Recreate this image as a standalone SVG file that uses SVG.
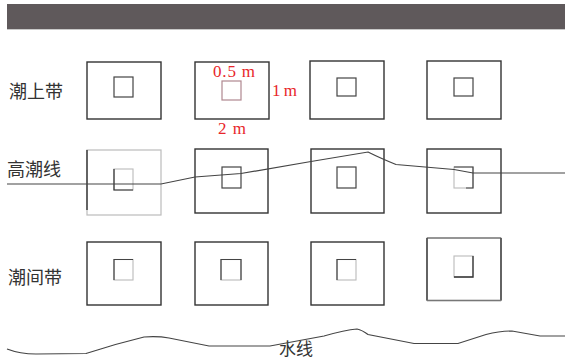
<svg xmlns="http://www.w3.org/2000/svg" width="565" height="361" viewBox="0 0 565 361">
<style>
.box{fill:none;stroke:#333;stroke-width:1.4}
.lbox{fill:none;stroke:#bbb;stroke-width:1.2}
.in{fill:none;stroke:#444;stroke-width:1.2}
.lin{fill:none;stroke:#bbb;stroke-width:1.1}
.dk{stroke:#333;stroke-width:1.4;fill:none}
.lbl{font-family:"Noto Sans CJK SC","Noto Sans CJK JP",sans-serif;font-size:18px;fill:#333}
.red{font-family:"Liberation Serif",serif;font-size:17px;fill:#e8262a}
.line{fill:none;stroke:#444;stroke-width:1.2}
</style>
<rect id="header" x="7" y="4" width="558" height="25" fill="#5f595b"/>
<line x1="7" y1="29.5" x2="565" y2="29.5" stroke="#c8c8c8" stroke-width="1"/>

<g id="labels">
<text class="lbl" x="9" y="98">潮上带</text>
<text class="lbl" x="7" y="176">高潮线</text>
<text class="lbl" x="8" y="284">潮间带</text>
<text class="lbl" x="279" y="355" style="font-size:17px">水线</text>
</g>

<g id="r1c1"><rect class="box" x="87" y="62" width="74" height="57"/><rect class="in" x="114" y="77" width="19" height="20"/></g>
<g id="r1c2"><rect class="box" x="195" y="62" width="74" height="57"/><rect x="222" y="81" width="19" height="19" fill="none" stroke="#b08890" stroke-width="1.2"/>
<text class="red" x="213" y="77" textLength="42">0.5 m</text>
<text class="red" x="272" y="96" textLength="25">1 m</text>
<text class="red" x="218" y="134" textLength="28">2 m</text></g>
<g id="r1c3"><rect class="box" x="310" y="61" width="74" height="58"/><rect class="in" x="337" y="78" width="19" height="18"/></g>
<g id="r1c4"><rect class="box" x="427" y="61" width="74" height="58"/><rect class="in" x="454" y="78" width="19" height="18"/></g>

<g id="r2c1"><rect class="lbox" x="87" y="150" width="74" height="65"/><line class="dk" x1="87" y1="150" x2="87" y2="210"/>
<rect class="lin" x="114" y="169" width="19" height="21"/><polyline class="dk" points="114,169 114,190 133,190" style="stroke-width:1.2"/></g>
<g id="r2c2"><rect class="box" x="195" y="149" width="73" height="64"/><rect class="in" x="222" y="167" width="19" height="21"/></g>
<g id="r2c3"><rect class="box" x="311" y="149" width="73" height="64"/><rect class="in" x="337" y="167" width="19" height="21"/></g>
<g id="r2c4"><rect class="box" x="427" y="149" width="74" height="64"/><rect class="lin" x="454" y="167" width="19" height="21"/><polyline class="in" points="454,167 473,167 473,188 466,188"/></g>

<g id="r3c1"><rect class="box" x="87" y="242" width="74" height="63"/><rect class="lin" x="114" y="259.5" width="19" height="20.5"/><polyline class="in" points="114,280 114,259.5 133,259.5"/></g>
<g id="r3c2"><rect class="box" x="195" y="242" width="73" height="63"/><rect class="lin" x="221" y="259.5" width="20" height="20.5"/><polyline class="in" points="221,280 221,259.5 241,259.5 241,280"/></g>
<g id="r3c3"><rect class="box" x="311" y="242" width="73" height="63"/><rect class="lin" x="337" y="259.5" width="19" height="20.5"/><polyline class="in" points="337,280 337,259.5 356,259.5"/></g>
<g id="r3c4"><rect class="lbox" x="427" y="238" width="74" height="62.5"/><line class="dk" x1="427" y1="238" x2="427" y2="300.5"/><line class="dk" x1="501" y1="238" x2="501" y2="300.5"/><line x1="427" y1="238" x2="501" y2="238" stroke="#555" stroke-width="1.2"/><line x1="427" y1="300.5" x2="501" y2="300.5" stroke="#777" stroke-width="1.3"/>
<rect class="lin" x="454" y="256" width="19" height="21"/><polyline class="dk" points="454,277 473,277 473,256" style="stroke-width:1.3"/></g>

<g id="connectors">
<path class="line" d="M7,184 L161,184 L195,177 L241,173.5 L311,161.5 L368,152 Q380,158 396,164.5 L454,169.5 L473,173 L565,173"/>
<path class="line" d="M7,349 Q20,354 36,354 L86,353.5 Q115,344 144,337 Q158,336 169,338 L209,346 L270,346 L324,336 Q345,330 357,329 Q362,330 368,334.5 L414,343.5 L458,343.5 L486,334.5 Q500,331 512,331 L540,336 L565,336" stroke-width="1"/>
</g>
</svg>
